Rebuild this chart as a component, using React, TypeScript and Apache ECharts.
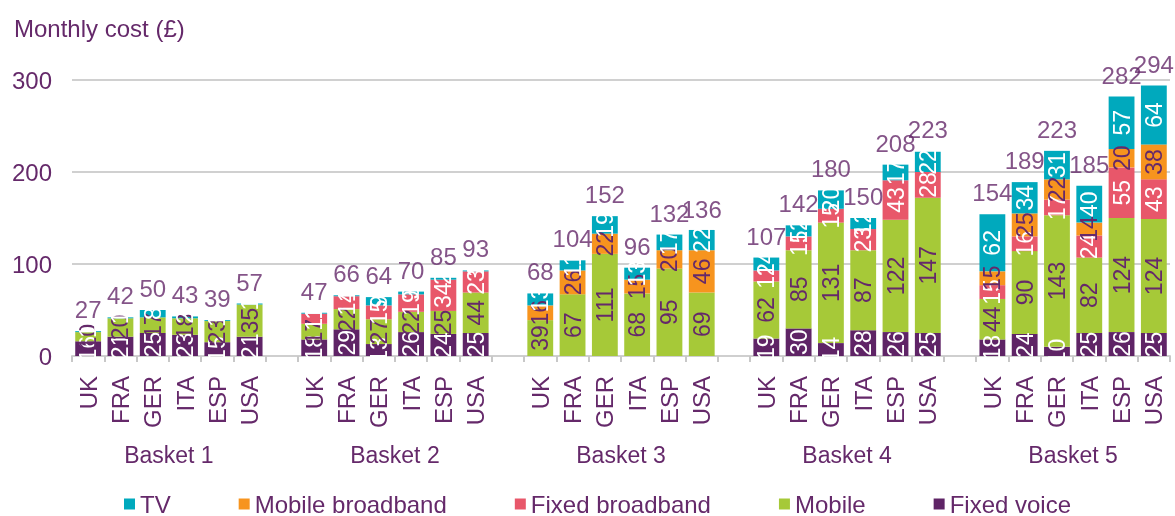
import React, { useEffect, useRef } from "react";
import * as echarts from "echarts";

const countries = ["UK", "FRA", "GER", "ITA", "ESP", "USA"];
const baskets = ["Basket 1", "Basket 2", "Basket 3", "Basket 4", "Basket 5"];

// values per basket (6 countries each), basket 1..5
const fixedVoice = [
  16, 21, 25, 23, 15, 21,
  18, 29, 13, 26, 24, 25,
  0, 0, 0, 0, 0, 0,
  19, 30, 14, 28, 26, 25,
  18, 24, 10, 25, 26, 25,
];
const mobile = [
  10, 20, 17, 18, 23, 35,
  17, 22, 27, 22, 25, 44,
  39, 67, 111, 68, 95, 69,
  62, 85, 131, 87, 122, 147,
  44, 90, 143, 82, 124, 124,
];
const fixedBroadband = [
  0, 0, 0, 0, 0, 0,
  11, 14, 15, 19, 34, 23,
  0, 0, 0, 0, 0, 0,
  12, 15, 15, 23, 43, 28,
  15, 16, 17, 24, 55, 43,
];
const mobileBroadband = [
  0, 0, 0, 0, 0, 0,
  0, 0, 0, 0, 0, 0,
  16, 26, 22, 15, 20, 46,
  0, 0, 0, 0, 0, 0,
  15, 25, 22, 14, 20, 38,
];
const tv = [
  1, 1, 8, 2, 1, 1,
  1, 1, 9, 3, 2, 1,
  13, 11, 19, 13, 17, 22,
  14, 12, 20, 12, 17, 22,
  62, 34, 31, 40, 57, 64,
];
const totals = [
  27, 42, 50, 43, 39, 57,
  47, 66, 64, 70, 85, 93,
  68, 104, 152, 96, 132, 136,
  107, 142, 180, 150, 208, 223,
  154, 189, 223, 185, 282, 294,
];

const yTicks = [0, 100, 200, 300];

const TEXT = "#65296a";
const COLORS = {
  tv: "#00a9bd",
  mobileBroadband: "#f7941e",
  fixedBroadband: "#e8576a",
  mobile: "#a6c938",
  fixedVoice: "#5f2466",
};

function toSlots(values: any[], blank: any) {
  const out: any[] = [];
  baskets.forEach((_, b) => {
    if (b > 0) out.push(blank);
    for (let c = 0; c < countries.length; c++) out.push(values[b * countries.length + c]);
  });
  return out;
}

const categoryNames = toSlots(
  baskets.flatMap(() => countries),
  ""
);

// basket label axis: boundaries 0..34 (35 points), basket centres on boundaries 3,10,17,24,31
const basketAxis: string[] = [];
for (let i = 0; i <= categoryNames.length; i++) basketAxis.push("");
baskets.forEach((name, b) => {
  basketAxis[b * 7 + 3] = name;
});

export default function App() {
  const ref = useRef<HTMLDivElement>(null);
  useEffect(() => {
    if (!ref.current) return;
    const chart = echarts.init(ref.current, undefined, { renderer: "svg" });
    const barLabel = (color: string) => ({
      show: true,
      position: "inside",
      rotate: 90,
      fontSize: 23,
      color,
      formatter: (p: any) => (p.value > 0 ? String(p.value) : ""),
    });
    const mkBar = (name: string, values: number[], color: string, labelColor: string) => ({
      name,
      type: "bar",
      stack: "total",
      barCategoryGap: "20%",
      data: toSlots(values, "-"),
      itemStyle: { color },
      label: barLabel(labelColor),
    });
    chart.setOption({
      animation: false,
      textStyle: { fontFamily: "Liberation Sans" },
      title: {
        text: "Monthly cost (£)",
        left: 9,
        top: 11,
        textStyle: { fontSize: 24, fontWeight: "normal", color: TEXT, fontFamily: "Liberation Sans" },
      },
      grid: { left: 72, right: 5, top: 80, bottom: 160 },
      legend: {
        data: ["TV", "Mobile broadband", "Fixed broadband", "Mobile", "Fixed voice"],
        left: 124,
        top: 492,
        padding: 0,
        icon: "rect",
        itemWidth: 11,
        itemHeight: 11,
        itemGap: 68,
        textStyle: { fontSize: 24, color: TEXT },
      },
      xAxis: [
        {
          type: "category",
          data: categoryNames,
          axisLine: { show: true, lineStyle: { color: "#cfcfcf", width: 2 } },
          axisTick: { show: true, interval: 0, length: 6, lineStyle: { color: "#c8c8c8", width: 2 } },
          axisLabel: { interval: 0, rotate: 90, fontSize: 24, color: TEXT, margin: 20 },
          splitLine: { show: false },
        },
        {
          type: "category",
          position: "bottom",
          offset: 80,
          boundaryGap: false,
          data: basketAxis,
          axisLine: { show: false },
          axisTick: { show: false },
          axisLabel: { interval: 0, fontSize: 23, color: TEXT, margin: 7 },
          splitLine: { show: false },
        },
      ],
      yAxis: {
        type: "value",
        min: yTicks[0],
        max: yTicks[yTicks.length - 1],
        interval: 100,
        axisLine: { show: false },
        axisTick: { show: false },
        axisLabel: { fontSize: 24, color: TEXT, margin: 20 },
        splitLine: { lineStyle: { color: "#d0d0d0", width: 2 } },
      },
      series: [
        mkBar("Fixed voice", fixedVoice, COLORS.fixedVoice, "#ffffff"),
        mkBar("Mobile", mobile, COLORS.mobile, TEXT),
        mkBar("Fixed broadband", fixedBroadband, COLORS.fixedBroadband, "#ffffff"),
        mkBar("Mobile broadband", mobileBroadband, COLORS.mobileBroadband, TEXT),
        mkBar("TV", tv, COLORS.tv, "#ffffff"),
        {
          name: "Total",
          type: "scatter",
          data: toSlots(totals, "-"),
          symbolSize: 1,
          itemStyle: { color: "rgba(0,0,0,0)" },
          label: {
            show: true,
            position: "top",
            distance: 9,
            fontSize: 24,
            color: TEXT,
          },
          z: 10,
        },
      ],
    });
    return () => chart.dispose();
  }, []);
  return (
    <div
      ref={ref}
      style={{ position: "fixed", left: 0, top: 0, width: 1175, height: 516 }}
    />
  );
}
